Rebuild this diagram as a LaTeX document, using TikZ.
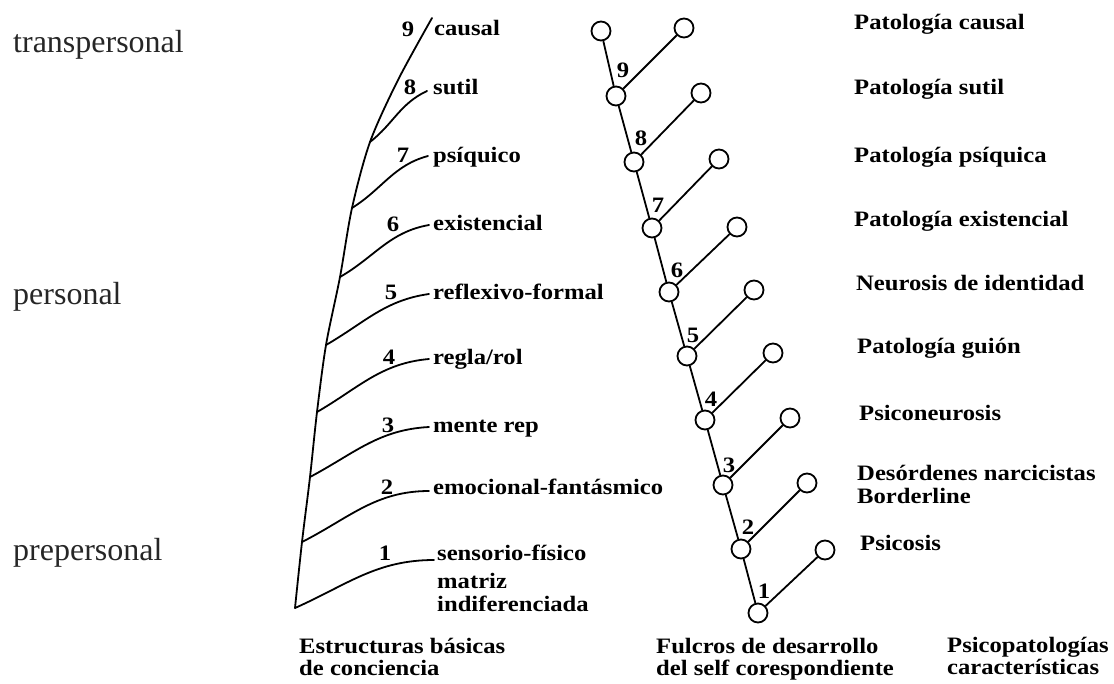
\documentclass[tikz,border=0pt]{standalone}
\usepackage{fontspec}
\setmainfont{Liberation Serif}
\newfontfamily\anchafont[FakeStretch=1.12]{Liberation Serif}
\usetikzlibrary{positioning, calc}

\begin{document}
\begin{tikzpicture}[
        x=1pt, y=-1pt,
        circulo/.style={draw, circle, minimum size=19pt, inner sep=0pt, line width=1.8pt},
        etiqueta/.style={font=\anchafont\bfseries\fontsize{22}{23}\selectfont, anchor=west, inner sep=0pt, text height=14pt, text depth=0pt},
        etiquetados/.style={font=\anchafont\bfseries\fontsize{22}{23}\selectfont, anchor=north west, inner sep=0pt, align=left},
        titulo/.style={font=\anchafont\bfseries\fontsize{22}{22}\selectfont, anchor=north west, inner sep=0pt, align=left},
        numero/.style={font=\anchafont\bfseries\fontsize{22}{23}\selectfont, inner sep=0pt, text height=14pt, text depth=0pt},
        nivel/.style={font=\fontsize{32}{34}\selectfont, text=black!85, anchor=west, inner sep=0pt, text height=15pt, text depth=0pt},
        linea/.style={line width=1.8pt},
        rama/.style={line width=1.8pt, line cap=round},
    ]
        \useasboundingbox (0,0) rectangle (1114,683);

        % niveles
        \node[nivel] (transpersonal) at (13,45) {transpersonal};
        \node[nivel] (personal) at (13,297) {personal};
        \node[nivel] (prepersonal) at (13,553) {prepersonal};

        % estructuras basicas
        \coordinate (b1) at (295,608);
        \coordinate (b2) at (302,542);
        \coordinate (b3) at (310,477);
        \coordinate (b4) at (317,412);
        \coordinate (b5) at (326,345);
        \coordinate (b6) at (340,277);
        \coordinate (b7) at (352,208);
        \coordinate (b8) at (370,142);
        \coordinate (bm) at (398,80);
        \coordinate (b9) at (432,18);
        \draw[rama] plot[smooth, tension=0.5] coordinates {(b1) (b2) (b3) (b4) (b5) (b6) (b7) (b8) (bm) (b9)};

        \node[etiqueta] (causal) at (434,28) {causal};
        \node[etiqueta] (sutil) at (433,87) {sutil};
        \node[etiqueta] (psiquico) at (433,155) {psíquico};
        \node[etiqueta] (existencial) at (433,223) {existencial};
        \node[etiqueta] (reflexivo) at (433,292) {reflexivo-formal};
        \node[etiqueta] (regla) at (433,357) {regla/rol};
        \node[etiqueta] (mente) at (433,425) {mente rep};
        \node[etiqueta] (emocional) at (433,487) {emocional-fantásmico};
        \node[etiqueta] (sensorio) at (437,553) {sensorio-físico};
        \node[etiquetados] (matriz) at (437,573) {matriz\\indiferenciada};

        \node[numero] (e9) at (408,29) {9};
        \node[numero] (e8) at (410,87) {8};
        \node[numero] (e7) at (403,155) {7};
        \node[numero] (e6) at (393,224) {6};
        \node[numero] (e5) at (391,292) {5};
        \node[numero] (e4) at (389,357) {4};
        \node[numero] (e3) at (388,425) {3};
        \node[numero] (e2) at (387,487) {2};
        \node[numero] (e1) at (385,553) {1};

        \draw[rama] (b8) to[out=38, in=205] ([xshift=-6pt, yshift=-4pt]sutil.west);
        \draw[rama] (b7) to[out=32, in=195] ([xshift=-5pt, yshift=-1pt]psiquico.west);
        \draw[rama] (b6) to[out=30, in=190] ([xshift=-4pt, yshift=-2pt]existencial.west);
        \draw[rama] (b5) to[out=30, in=188] ([xshift=-4pt, yshift=-2pt]reflexivo.west);
        \draw[rama] (b4) to[out=30, in=185] ([xshift=-4pt, yshift=-2pt]regla.west);
        \draw[rama] (b3) to[out=28, in=183] ([xshift=-4pt, yshift=-2pt]mente.west);
        \draw[rama] (b2) to[out=27, in=180] ([xshift=-4pt, yshift=-4pt]emocional.west);
        \draw[rama] (b1) to[out=24, in=180] ([xshift=-3pt, yshift=-7pt]sensorio.west);

        % fulcros del self
        \node[circulo] (f1) at (758,613) {};
        \node[circulo] (f2) at (741,549) {};
        \node[circulo] (f3) at (723,485) {};
        \node[circulo] (f4) at (705,420) {};
        \node[circulo] (f5) at (687,356) {};
        \node[circulo] (f6) at (669,292) {};
        \node[circulo] (f7) at (652,228) {};
        \node[circulo] (f8) at (634,162) {};
        \node[circulo] (f9) at (616,96) {};
        \node[circulo] (f10) at (601,31) {};

        \node[circulo] (r1) at (825,550) {};
        \node[circulo] (r2) at (807,483) {};
        \node[circulo] (r3) at (790,418) {};
        \node[circulo] (r4) at (773,353) {};
        \node[circulo] (r5) at (754,290) {};
        \node[circulo] (r6) at (737,227) {};
        \node[circulo] (r7) at (719,159) {};
        \node[circulo] (r8) at (701,93) {};
        \node[circulo] (r9) at (684,28) {};

        \draw[linea] (f1) -- (f2);
        \draw[linea] (f2) -- (f3);
        \draw[linea] (f3) -- (f4);
        \draw[linea] (f4) -- (f5);
        \draw[linea] (f5) -- (f6);
        \draw[linea] (f6) -- (f7);
        \draw[linea] (f7) -- (f8);
        \draw[linea] (f8) -- (f9);
        \draw[linea] (f9) -- (f10);
        \draw[linea] (f1) -- (r1);
        \draw[linea] (f2) -- (r2);
        \draw[linea] (f3) -- (r3);
        \draw[linea] (f4) -- (r4);
        \draw[linea] (f5) -- (r5);
        \draw[linea] (f6) -- (r6);
        \draw[linea] (f7) -- (r7);
        \draw[linea] (f8) -- (r8);
        \draw[linea] (f9) -- (r9);

        \node[numero, above=3.5pt of f1, xshift=6pt] (m1) {1};
        \node[numero, above=3.5pt of f2, xshift=7pt] (m2) {2};
        \node[numero, above=2pt of f3, xshift=6pt] (m3) {3};
        \node[numero, above=3pt of f4, xshift=6pt] (m4) {4};
        \node[numero, above=3pt of f5, xshift=6pt] (m5) {5};
        \node[numero, above=3.5pt of f6, xshift=8pt] (m6) {6};
        \node[numero, above=5pt of f7, xshift=6pt] (m7) {7};
        \node[numero, above=6pt of f8, xshift=7pt] (m8) {8};
        \node[numero, above=8pt of f9, xshift=7pt] (m9) {9};

        % psicopatologias
        \node[etiqueta] (pcausal) at (854,22) {Patología causal};
        \node[etiqueta] (psutil) at (854,87) {Patología sutil};
        \node[etiqueta] (ppsiquica) at (854,155) {Patología psíquica};
        \node[etiqueta] (pexistencial) at (854,219) {Patología existencial};
        \node[etiqueta] (neurosis) at (856,283) {Neurosis de identidad};
        \node[etiqueta] (guion) at (857,346) {Patología guión};
        \node[etiqueta] (psiconeurosis) at (859,413) {Psiconeurosis};
        \node[etiquetados] (desordenes) at (857,465) {Desórdenes narcicistas\\Borderline};
        \node[etiqueta] (psicosis) at (860,543) {Psicosis};

        % titulos
        \node[titulo] (estructuras) at (299,638) {Estructuras básicas\\de conciencia};
        \node[titulo] (fulcros) at (656,638) {Fulcros de desarrollo\\del self corespondiente};
        \node[titulo] (psicopatologias) at (947,637) {Psicopatologías\\características};
    \end{tikzpicture}
\end{document}
